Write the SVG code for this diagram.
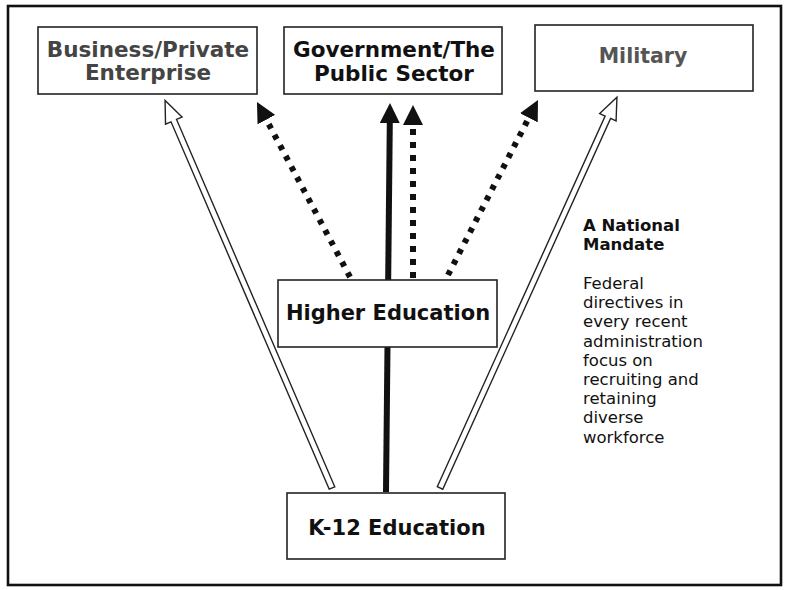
<svg xmlns="http://www.w3.org/2000/svg" width="785" height="590" viewBox="0 0 785 590">
  <style>
    .box { fill: #fff; stroke: #222; stroke-width: 1.6; }
    .lbl { font-family: "DejaVu Sans", Verdana, sans-serif; font-weight: bold; text-anchor: middle; }
    .note { font-family: "DejaVu Sans", Verdana, sans-serif; font-size: 16.5px; fill: #111; }
    .dot { stroke: #111; stroke-width: 6; fill: none; marker-end: url(#head); }
    .solid { stroke: #111; stroke-width: 6; fill: none; marker-end: url(#head); }
    .hollow { fill: #fff; stroke: #222; stroke-width: 1.4; stroke-linejoin: miter; }
  </style>
  <defs>
    <marker id="head" viewBox="0 0 20 20" markerWidth="20" markerHeight="20" refX="1" refY="10" orient="auto" markerUnits="userSpaceOnUse">
      <path d="M0,0 L20,10 L0,20 Z" fill="#111"/>
    </marker>
  </defs>
  <rect width="785" height="590" fill="#fff"/>
  <rect x="8" y="6" width="773" height="579" fill="none" stroke="#111" stroke-width="2.6"/>

  <g id="connectors">
    <!-- hollow arrows from K-12 -->
    <polygon class="hollow" transform="translate(332,488) rotate(-113.3)" points="0,-3 400,-3 400,-9 422,0 400,9 400,3 0,3"/>
    <polygon class="hollow" transform="translate(440,488) rotate(-65.64)" points="0,-3 407,-3 407,-9 429,0 407,9 407,3 0,3"/>
    <!-- solid arrow K-12 to Government -->
    <line class="solid" x1="386" y1="492" x2="389.8" y2="122"/>
    <!-- dotted arrows from Higher Education -->
    <line class="dot" x1="350" y1="277" x2="265.9" y2="118.8" stroke-dasharray="5 7"/>
    <line class="dot" x1="413" y1="278" x2="413" y2="124" stroke-dasharray="6 7"/>
    <line class="dot" x1="448" y1="275" x2="529.3" y2="116.9" stroke-dasharray="5 7"/>
  </g>

  <g id="business">
    <rect class="box" x="38" y="27" width="219" height="67" stroke="#444"/>
    <text class="lbl" x="148" y="57" font-size="21.5" fill="#444">Business/Private</text>
    <text class="lbl" x="148" y="80" font-size="21.5" fill="#444">Enterprise</text>
  </g>
  <g id="government">
    <rect class="box" x="284" y="27" width="218" height="67"/>
    <text class="lbl" x="394" y="57" font-size="21.5" fill="#111">Government/The</text>
    <text class="lbl" x="394" y="81" font-size="21.5" fill="#111">Public Sector</text>
  </g>
  <g id="military">
    <rect class="box" x="535" y="25" width="218" height="66" stroke="#444"/>
    <text class="lbl" x="643" y="63" font-size="20.5" fill="#555">Military</text>
  </g>
  <g id="higher-education">
    <rect class="box" x="278" y="280" width="219" height="67"/>
    <text class="lbl" x="388" y="320" font-size="21" fill="#111">Higher Education</text>
  </g>
  <g id="k12">
    <rect class="box" x="287" y="493" width="218" height="66"/>
    <text class="lbl" x="397" y="535" font-size="21" fill="#111">K-12 Education</text>
  </g>

  <g id="mandate">
    <text class="note" font-weight="bold" x="583" y="231">A National</text>
    <text class="note" font-weight="bold" x="583" y="249.5">Mandate</text>
    <text class="note" x="583" y="289">Federal</text>
    <text class="note" x="583" y="308.2">directives in</text>
    <text class="note" x="583" y="327.4">every recent</text>
    <text class="note" x="583" y="346.6">administration</text>
    <text class="note" x="583" y="365.8">focus on</text>
    <text class="note" x="583" y="385">recruiting and</text>
    <text class="note" x="583" y="404.2">retaining</text>
    <text class="note" x="583" y="423.4">diverse</text>
    <text class="note" x="583" y="442.6">workforce</text>
  </g>
</svg>
